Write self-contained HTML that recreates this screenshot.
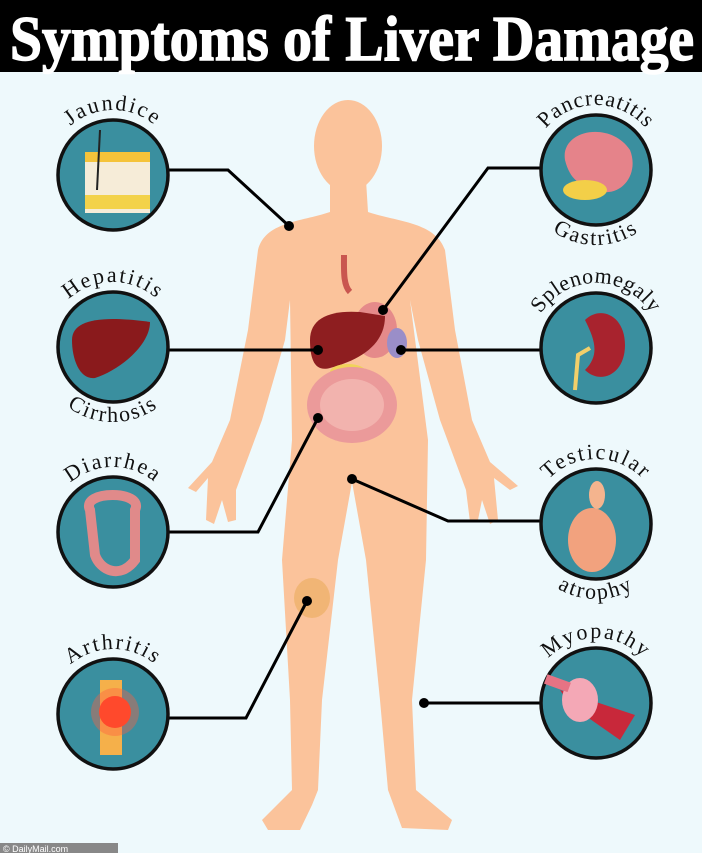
<!DOCTYPE html>
<html><head><meta charset="utf-8"><style>
html,body{margin:0;padding:0;width:702px;height:853px;overflow:hidden;background:#eef9fc}
svg{display:block}
</style></head><body>
<svg width="702" height="853" viewBox="0 0 702 853" xmlns="http://www.w3.org/2000/svg">
<rect width="702" height="853" fill="#eef9fc"/>
<rect width="702" height="72" fill="#000"/>
<text x="10" y="60" font-family="Liberation Serif, serif" font-weight="bold" font-size="64" fill="#fff" textLength="684" lengthAdjust="spacingAndGlyphs" stroke="#fff" stroke-width="1.5">Symptoms of Liver Damage</text>

<g fill="#fbc39b">
<ellipse cx="348" cy="146" rx="34" ry="46"/>
<path d="M330,180 L330,212 C300,222 265,222 258,250 L248,330 L230,420 L212,462 L188,488 L196,492 L208,478 L206,520 L214,524 L222,500 L228,522 L236,520 L236,490 L262,420 L285,340 L290,300 L292,440 L282,560 L290,700 L292,790 L262,820 L268,830 L300,830 L312,805 L318,790 L322,700 L338,560 L352,482 L366,560 L380,700 L388,790 L402,828 L448,830 L452,820 L416,790 L412,700 L426,560 L428,440 L410,300 L418,340 L440,420 L466,490 L470,522 L478,520 L482,500 L490,524 L498,520 L494,478 L510,490 L518,486 L490,462 L472,420 L455,330 L445,250 C435,222 398,222 368,212 L366,180 Z"/>
</g>
<path d="M344,255 C344,270 343,285 350,292" stroke="#c9564f" stroke-width="6" fill="none"/>
<ellipse cx="375" cy="330" rx="22" ry="28" fill="#e58a8a"/>
<ellipse cx="397" cy="343" rx="10" ry="15" fill="#9a8ec8"/>
<path d="M310,340 C310,318 330,310 360,312 L385,316 C385,345 360,360 330,368 C315,372 310,360 310,340Z" fill="#8e1e20"/>
<ellipse cx="348" cy="372" rx="18" ry="8" fill="#f0d35a"/>
<ellipse cx="352" cy="405" rx="45" ry="38" fill="#eb9a9a"/>
<ellipse cx="352" cy="405" rx="32" ry="26" fill="#f2b3ae"/>
<ellipse cx="312" cy="598" rx="18" ry="20" fill="#f1b575"/>

<g stroke="#000" stroke-width="3" fill="none">
<polyline points="168,170 228,170 289,226"/>
<polyline points="168,350 318,350"/>
<polyline points="168,532 258,532 318,418"/>
<polyline points="168,718 246,718 307,601"/>
<polyline points="540,168 488,168 383,310"/>
<polyline points="540,350 401,350"/>
<polyline points="540,521 448,521 352,479"/>
<polyline points="540,703 424,703"/>
</g>
<g fill="#000">
<circle cx="289" cy="226" r="5"/><circle cx="318" cy="350" r="5"/><circle cx="318" cy="418" r="5"/><circle cx="307" cy="601" r="5"/>
<circle cx="383" cy="310" r="5"/><circle cx="401" cy="350" r="5"/><circle cx="352" cy="479" r="5"/><circle cx="424" cy="703" r="5"/>
</g>

<g fill="#3a8f9f" stroke="#111" stroke-width="3.5">
<circle cx="113" cy="175" r="55"/><circle cx="113" cy="347" r="55"/><circle cx="113" cy="532" r="55"/><circle cx="113" cy="714" r="55"/>
<circle cx="596" cy="170" r="55"/><circle cx="596" cy="348" r="55"/><circle cx="596" cy="524" r="55"/><circle cx="596" cy="703" r="55"/>
</g>
<rect x="85" y="158" width="65" height="55" fill="#f6ecd8"/><rect x="85" y="152" width="65" height="10" fill="#f5c33a"/><rect x="85" y="195" width="65" height="14" fill="#f3d24a"/><line x1="100" y1="130" x2="97" y2="190" stroke="#222" stroke-width="2"/>
<path d="M72,340 C72,320 100,315 150,322 C150,345 120,370 95,378 C80,380 72,360 72,340Z" fill="#8a1a1c"/>
<path d="M90,510 C80,490 145,490 135,510 L135,560 C120,580 100,570 95,555 Z" fill="none" stroke="#e08a8a" stroke-width="10"/>
<rect x="100" y="680" width="22" height="75" fill="#f5b04a"/><circle cx="115" cy="712" r="16" fill="#ff3b1f"/><circle cx="115" cy="712" r="24" fill="#ff6040" opacity="0.4"/>
<path d="M565,160 C560,130 610,120 630,150 C640,175 620,200 595,190 C580,185 570,180 565,160Z" fill="#e5838a"/><ellipse cx="585" cy="190" rx="22" ry="10" fill="#f3cf48"/>
<path d="M585,320 C600,305 625,315 625,345 C625,375 600,385 585,370 C600,355 595,340 585,320Z" fill="#a8232e"/><path d="M590,348 L578,355 L575,390" stroke="#f2cf6a" stroke-width="4" fill="none"/>
<ellipse cx="592" cy="540" rx="24" ry="32" fill="#f2a27e"/><ellipse cx="597" cy="495" rx="8" ry="14" fill="#f4b48e"/>
<path d="M560,690 L635,715 L620,740 L570,705Z" fill="#c8283a"/><ellipse cx="580" cy="700" rx="18" ry="22" fill="#f4a8b6"/><rect x="545" y="678" width="25" height="10" fill="#e67384" transform="rotate(20 557 683)"/>

<defs>
<path id="aL1" d="M48,175 A65,65 0 0 1 178,175"/>
<path id="aL2" d="M48,347 A65,65 0 0 1 178,347"/>
<path id="bL2" d="M38,347 A75,75 0 0 0 188,347"/>
<path id="aL3" d="M48,532 A65,65 0 0 1 178,532"/>
<path id="aL4" d="M48,714 A65,65 0 0 1 178,714"/>
<path id="aR1" d="M531,170 A65,65 0 0 1 661,170"/>
<path id="bR1" d="M521,170 A75,75 0 0 0 671,170"/>
<path id="aR2" d="M531,348 A65,65 0 0 1 661,348"/>
<path id="aR3" d="M531,524 A65,65 0 0 1 661,524"/>
<path id="bR3" d="M521,524 A75,75 0 0 0 671,524"/>
<path id="aR4" d="M531,703 A65,65 0 0 1 661,703"/>
</defs>
<g font-family="Liberation Serif, serif" font-size="22" fill="#111" text-anchor="middle" letter-spacing="2">
<text><textPath href="#aL1" startOffset="50%">Jaundice</textPath></text>
<text><textPath href="#aL2" startOffset="50%">Hepatitis</textPath></text>
<text><textPath href="#bL2" startOffset="50%">Cirrhosis</textPath></text>
<text><textPath href="#aL3" startOffset="50%">Diarrhea</textPath></text>
<text><textPath href="#aL4" startOffset="50%">Arthritis</textPath></text>
<text letter-spacing="1"><textPath href="#aR1" startOffset="50%">Pancreatitis</textPath></text>
<text><textPath href="#bR1" startOffset="50%">Gastritis</textPath></text>
<text letter-spacing="0.5"><textPath href="#aR2" startOffset="50%">Splenomegaly</textPath></text>
<text><textPath href="#aR3" startOffset="50%">Testicular</textPath></text>
<text><textPath href="#bR3" startOffset="50%">atrophy</textPath></text>
<text><textPath href="#aR4" startOffset="50%">Myopathy</textPath></text>
</g>
<rect x="0" y="843" width="118" height="10" fill="#888"/>
<text x="3" y="852" font-family="Liberation Sans, sans-serif" font-size="9" fill="#fff">© DailyMail.com</text>
</svg>
</body></html>
